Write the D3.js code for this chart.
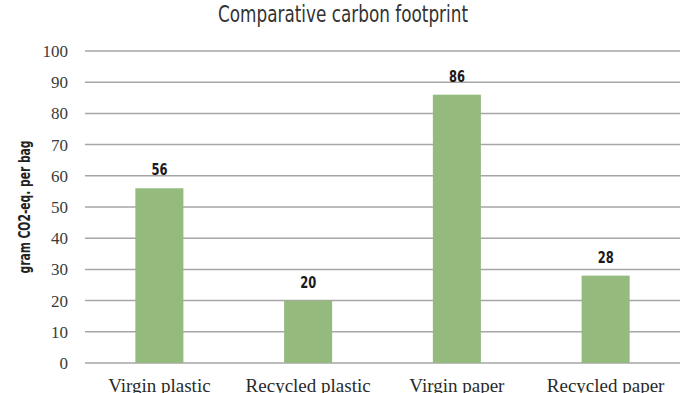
<!DOCTYPE html>
<html>
<head>
<meta charset="utf-8">
<script src="https://cdn.jsdelivr.net/npm/d3@7"></script>
<style>
  body { margin: 0; background: #fff; }
  svg { display: block; }
</style>
</head>
<body>
<svg id="chart" width="700" height="393"></svg>
<script>
const categories = ["Virgin plastic", "Recycled plastic", "Virgin paper", "Recycled paper"];
const values = [56, 20, 86, 28];
const yTicks = [0, 10, 20, 30, 40, 50, 60, 70, 80, 90, 100];

const svg = d3.select("#chart");
const margin = { top: 51, right: 20, bottom: 30, left: 85 };
const width = 700 - margin.left - margin.right;
const height = 393 - margin.top - margin.bottom;

const condensed = "'Liberation Sans Narrow', 'DejaVu Sans Condensed', sans-serif";
const serif = "'Liberation Serif', 'DejaVu Serif', serif";

const g = svg.append("g").attr("transform", `translate(${margin.left},${margin.top})`);

const x = d3.scaleBand()
    .domain(categories)
    .range([0, width])
    .paddingInner(0.677)
    .paddingOuter(0.3385);

const y = d3.scaleLinear().domain([0, 100]).range([height, 0]);

// gridlines
g.selectAll("line.grid")
    .data(yTicks)
    .enter()
    .append("line")
    .attr("class", "grid")
    .attr("x1", 0)
    .attr("x2", width)
    .attr("y1", function(d) { return y(d); })
    .attr("y2", function(d) { return y(d); })
    .attr("stroke", "#a6a6a6")
    .attr("stroke-width", 1.5);

// y tick labels
g.selectAll("text.ytick")
    .data(yTicks)
    .enter()
    .append("text")
    .attr("class", "ytick")
    .attr("x", -17)
    .attr("y", function(d) { return y(d); })
    .attr("dy", "0.35em")
    .attr("text-anchor", "end")
    .attr("font-family", serif)
    .attr("font-size", 17)
    .attr("fill", "#3a3a3a")
    .text(function(d) { return d; });

// bars
g.selectAll("rect.bar")
    .data(values)
    .enter()
    .append("rect")
    .attr("class", "bar")
    .attr("x", function(d, i) { return x(categories[i]); })
    .attr("y", function(d) { return y(d); })
    .attr("width", x.bandwidth())
    .attr("height", function(d) { return height - y(d); })
    .attr("fill", "#94ba7e");

// value labels
g.selectAll("text.val")
    .data(values)
    .enter()
    .append("text")
    .attr("class", "val")
    .attr("x", function(d, i) { return x(categories[i]) + x.bandwidth() / 2; })
    .attr("y", function(d) { return y(d) - 13; })
    .attr("text-anchor", "middle")
    .attr("font-family", condensed)
    .attr("font-size", 16)
    .attr("font-weight", "bold")
    .attr("fill", "#1a1a1a")
    .attr("textLength", 16)
    .attr("lengthAdjust", "spacingAndGlyphs")
    .text(function(d) { return d; });

// category labels
g.selectAll("text.cat")
    .data(categories)
    .enter()
    .append("text")
    .attr("class", "cat")
    .attr("x", function(d) { return x(d) + x.bandwidth() / 2; })
    .attr("y", height + 29)
    .attr("text-anchor", "middle")
    .attr("font-family", serif)
    .attr("font-size", 19)
    .attr("fill", "#2a2a2a")
    .text(function(d) { return d; });

// title
svg.append("text")
    .attr("x", 343)
    .attr("y", 22)
    .attr("text-anchor", "middle")
    .attr("font-family", condensed)
    .attr("font-size", 23)
    .attr("fill", "#333")
    .attr("textLength", 250)
    .attr("lengthAdjust", "spacingAndGlyphs")
    .text("Comparative carbon footprint");

// y axis label
svg.append("text")
    .attr("transform", "translate(30,207) rotate(-90)")
    .attr("text-anchor", "middle")
    .attr("font-family", condensed)
    .attr("font-size", 15)
    .attr("font-weight", 600)
    .attr("fill", "#222")
    .attr("textLength", 133)
    .attr("lengthAdjust", "spacingAndGlyphs")
    .text("gram CO2-eq. per bag");
</script>
</body>
</html>
